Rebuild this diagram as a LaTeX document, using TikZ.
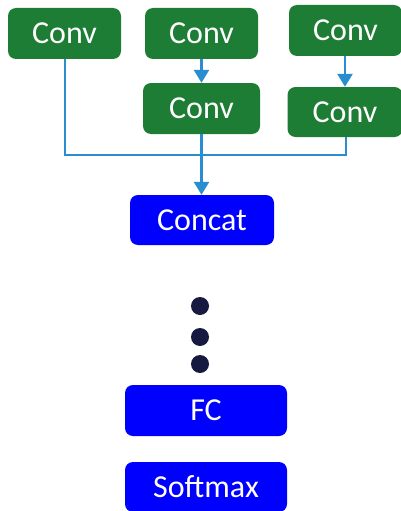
\documentclass[tikz,border=0pt]{standalone}
\usepackage{fontspec}
\setmainfont{Carlito}
\usetikzlibrary{arrows.meta}
\definecolor{convgreen}{RGB}{30,125,52}
\definecolor{linkblue}{RGB}{40,142,208}
\definecolor{dotnavy}{RGB}{22,26,64}
\tikzset{
  box/.style={rounded corners=8pt, text=white, inner sep=0pt,
    font=\fontsize{32}{38}\selectfont},
  convbox/.style={box, fill=convgreen},
  layerbox/.style={box, fill=blue},
  link/.style={draw=linkblue, line width=2.6pt},
  flow/.style={link, -{Triangle[width=15pt,length=13pt]}},
  dot/.style={circle, fill=dotnavy, minimum size=18pt, inner sep=0pt}
}
\newcommand{\lbl}[1]{\raisebox{-1.5pt}{#1}}
\begin{document}
\begin{tikzpicture}[x=1pt,y=-1pt]
\useasboundingbox (0,0) rectangle (401,511);
% convolution branches
\node[convbox, minimum width=113pt, minimum height=51pt] (c1) at (64.5,33.5) {\lbl{Conv}};
\node[convbox, minimum width=113pt, minimum height=51pt] (c2) at (201.5,33.5) {\lbl{Conv}};
\node[convbox, minimum width=113pt, minimum height=51pt] (c3) at (345.5,30.5) {\lbl{Conv}};
\node[convbox, minimum width=117pt, minimum height=51pt] (c4) at (201.5,108.5) {\lbl{Conv}};
\node[convbox, minimum width=115pt, minimum height=50pt] (c5) at (345,112) {\lbl{Conv}};
% later layers
\node[layerbox, minimum width=144pt, minimum height=50pt] (cat) at (202,220) {\lbl{Concat}};
\node[dot] (d1) at (200,306) {};
\node[dot] (d2) at (200,337) {};
\node[dot] (d3) at (200,364) {};
\node[layerbox, minimum width=162pt, minimum height=51pt] (fc) at (206,410.5) {\lbl{FC}};
\node[layerbox, minimum width=162pt, minimum height=50pt] (sm) at (206,487) {\lbl{Softmax}};
% connectors
\coordinate (j1) at (65,155);
\coordinate (j5) at (346,155);
\draw[flow] (c2.south) -- (c4.north);
\draw[flow] (c3.south -| c5.north) -- (c5.north);
\draw[link] (c1.south -| j1) -- (j1) -- (j5) -- (c5.south -| j5);
\draw[flow] (c4.south) -- (c4.south |- cat.north);
\end{tikzpicture}
\end{document}
